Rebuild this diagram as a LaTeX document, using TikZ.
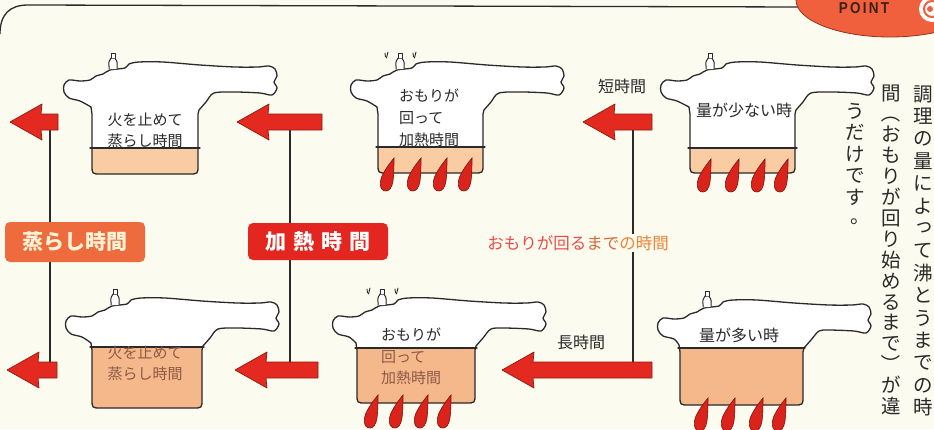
\documentclass[tikz,border=0pt]{standalone}
\usepackage{fontspec}
\setmainfont{Noto Sans CJK JP}
\newfontfamily\jpv{Noto Sans CJK JP}
\newfontfamily\latinb{Liberation Sans}

\definecolor{bg}{HTML}{FCFBEF}
\definecolor{ink}{HTML}{2A2A2A}
\definecolor{fillA}{HTML}{F9CCA4}
\definecolor{fillB}{HTML}{F5B88B}
\definecolor{arrowred}{HTML}{E42A20}
\definecolor{arrowedge}{HTML}{8E1A14}
\definecolor{flamered}{HTML}{D9231B}
\definecolor{flameedge}{HTML}{7E130E}
\definecolor{steamorange}{HTML}{EE6B3D}
\definecolor{heatred}{HTML}{E3261F}
\definecolor{cream}{HTML}{FFF3D6}
\definecolor{brownink}{HTML}{8E5A47}
\definecolor{pinkred}{HTML}{EE4B46}
\definecolor{brownorange}{HTML}{D8683A}
\definecolor{amber}{HTML}{EE8434}
\definecolor{pointred}{HTML}{F0603C}
\definecolor{pointedge}{HTML}{9A3220}
\definecolor{pointtext}{HTML}{3E2018}

\tikzset{
  potline/.style={draw=ink, line width=1.3pt, line join=round, line cap=round},
  bigarrow/.style={fill=arrowred, draw=arrowedge, line width=0.7pt, line join=round},
  flamestyle/.style={fill=flamered, draw=flameedge, line width=0.6pt},
  conn/.style={draw=ink, line width=1.1pt},
  pottext/.style={font=\fontsize{15}{18}\selectfont, text=ink, inner sep=0pt},
  labelbox/.style={rounded corners=5pt, minimum width=140, inner sep=0pt,
    font=\bfseries\fontsize{21}{24}\selectfont},
  vchar/.style={font=\jpv\fontsize{19.5}{20}\selectfont, text=ink, inner sep=0pt,
    text height=0.8em, text depth=0.2em},
}

% outline of a pressure cooker in local coordinates (lid tab at x=0, lid top at y=0)
\newcommand\potoutline[4]{%
  \path[#1] (#2,#4-9) -- (#2,52) -- plot[smooth,tension=0.5] coordinates {(#2-1,45) (17,39) (6,36) (1,30) (1,23) (6,18) (17,19) (27,18) (33,14) (40,12) (47,8) (62,6) (66,2) (76,0) (100,0) (137,3) (172,5) (195,5) (206,4) (212,7) (214,14) (211,20) (214,26) (209,33) (197,31) (172,30) ({#3+16},31) ({#3+8},40) ({#3+1},48)} -- (#3,52) -- (#3,#4-9) .. controls (#3,#4) .. (#3-9,#4) -- (#2+9,#4) .. controls (#2,#4) .. (#2,#4-9) -- cycle;}

% #1,#2 origin; #3 body left; #4 body right; #5 bottom; #6 level of contents; #7 colour; #8 steam marks
\newcommand\cooker[8]{%
  \begin{scope}[shift={(#1,#2)}]
    \potoutline{fill=white}{#3}{#4}{#5}
    \fill[#7] (#3,#6) -- (#3,#5-9) .. controls (#3,#5) .. (#3+9,#5) -- (#4-9,#5) .. controls (#4,#5) .. (#4,#5-9) -- (#4,#6) -- cycle;
    \draw[potline] (#3-2,#6) -- (#4+2,#6);
    \potoutline{potline}{#3}{#4}{#5}
    % pressure weight
    \draw[potline, line width=1pt, fill=white] (46,7) -- (46,4) .. controls (45,0) and (47,-2) .. (48,-4) -- (52,-4) .. controls (53,-2) and (55,0) .. (54,4) -- (54,7);
    \draw[potline, line width=1pt, fill=white] (48,-4) -- (48,-9) -- (52,-9) -- (52,-4);
    \ifnum#8=1
      \draw[ink, line width=0.9pt, line cap=round] (35,-9) -- (35.5,-5) (38,-10) .. controls (38,-7) .. (36.5,-4)
        (63,-9) -- (63.5,-5) (66,-10) .. controls (66,-7) .. (64.5,-4);
    \fi
  \end{scope}}

% flame: bottom point at (#1,#2)
\newcommand\flame[2]{%
  \path[flamestyle] (#1,#2) .. controls (#1-7,#2) and (#1-7,#2-10) .. (#1-3,#2-17) .. controls (#1,#2-23) and (#1+4,#2-28) .. (#1+8,#2-33) .. controls (#1+8,#2-26) and (#1+8,#2-18) .. (#1+7,#2-10) .. controls (#1+6,#2-3) and (#1+3,#2) .. (#1,#2) -- cycle;}

% block arrow pointing left: #1 name, #2 tip x, #3 y, #4 tail x
\newcommand\leftblock[4]{%
  \path[bigarrow] (#2,#3) -- (#2+32,#3-18) -- (#2+31,#3-8) -- (#4,#3-8) -- (#4,#3+8) -- (#2+31,#3+8) -- (#2+32,#3+18) -- cycle;
  \coordinate (#1) at (#2,#3);}

% brackets turned for vertical setting
\newcommand\vopen{\rotatebox[origin=c]{-90}{（}}
\newcommand\vclose{\rotatebox[origin=c]{-90}{）}}

\begin{document}
\begin{tikzpicture}[x=1pt,y=-1pt]
\useasboundingbox (0,0) rectangle (934,429);
\clip (0,0) rectangle (934,429);
\fill[bg] (0,0) rectangle (934,429);

% frame and badge
\draw[ink, line width=1.3pt] (0,34) .. controls (0,14) and (10,5) .. (28,5) -- (805,7);
\draw[fill=pointred, draw=pointedge, line width=0.8pt] (890,0) ellipse [x radius=94pt, y radius=37pt];
\node[font=\latinb\bfseries\fontsize{15}{15}\selectfont, text=pointtext, inner sep=0pt] (point) at (864,8) {\scalebox{0.9}[1.05]{P\,O\,I\,N\,T}};
\fill[white] (932,9) circle (13pt);
\draw[pointred, line width=2pt] (932,9) circle (8pt);
\fill[pointred] (930,9) circle (3pt);

% connectors between arrows
\coordinate (l1a) at (50,130);  \coordinate (l1b) at (50,362);
\coordinate (l2a) at (290,130); \coordinate (l2b) at (290,362);
\coordinate (l3a) at (633,130); \coordinate (l3b) at (633,362);
\draw[conn] (l1a) -- (l1b);
\draw[conn] (l2a) -- (l2b);
\draw[conn] (l3a) -- (l3b);

% arrows
\leftblock{a1}{10}{122}{58}
\leftblock{a2}{237}{122}{322}
\leftblock{a3}{583}{122}{652}
\leftblock{a4}{7}{370}{57}
\leftblock{a5}{235}{370}{318}
\leftblock{a6}{502}{370}{652}

% cookers, top row
\cooker{63}{62}{29}{135}{112}{86}{fillA}{0}
\cooker{350}{62}{28}{133}{111}{85}{fillA}{1}
\cooker{660}{62}{30}{135}{111}{86}{fillA}{0}
% cookers, bottom row
\cooker{65}{298}{27}{137}{110}{49}{fillB}{0}
\cooker{332}{298}{25}{143}{105}{50}{fillB}{1}
\cooker{657}{300}{23}{146}{105}{48}{fillB}{0}

% flames
\flame{386}{191} \flame{413}{191} \flame{439}{191} \flame{464}{191}
\flame{703}{192} \flame{731}{192} \flame{757}{192} \flame{780}{192}
\flame{370}{428} \flame{395}{428} \flame{420}{428} \flame{443}{428}
\flame{700}{431} \flame{727}{431} \flame{755}{431} \flame{778}{431}

% texts in the cookers
\node[pottext] (t1a) at (145,120) {火を止めて};
\node[pottext] (t1b) at (145,141) {蒸らし時間};
\node[pottext, anchor=west] (t2a) at (399,96) {おもりが};
\node[pottext, anchor=west] (t2b) at (399,118) {回って};
\node[pottext, anchor=west] (t2c) at (399,140) {加熱時間};
\node[pottext, font=\fontsize{16}{18}\selectfont] (t3) at (744,110) {量が少ない時};
\node[pottext, text=brownink] (t4a) at (145,353) {火を止めて};
\node[pottext, text=brownink] (t4b) at (145,374) {蒸らし時間};
\node[pottext, anchor=west] (t5a) at (381,335) {おもりが};
\node[pottext, anchor=west, text=brownink] (t5b) at (381,357) {回って};
\node[pottext, anchor=west, text=brownink] (t5c) at (381,378) {加熱時間};
\node[pottext, font=\fontsize{16}{18}\selectfont] (t6) at (739,335) {量が多い時};

% labels on the arrows
\node[pottext, font=\fontsize{16}{18}\selectfont] (short) at (622,86) {短時間};
\node[pottext, font=\fontsize{16}{18}\selectfont] (long) at (581,342) {長時間};
\node[font=\fontsize{16.5}{20}\selectfont, fill=bg, inner sep=1.5pt] (wait) at (578,243)
  {\textcolor{pinkred}{おもりが回る}\textcolor{brownorange}{まで}\textcolor{amber}{の時間}};
\node[labelbox, fill=steamorange, text=cream, minimum height=40] (steam) at (75,242) {蒸らし時間};
\node[labelbox, fill=heatred, text=white, minimum height=37] (heat) at (318,241.5) {加\hspace{7pt}熱\hspace{7pt}時\hspace{7pt}間};

% vertical note, set one character at a time
\foreach \ch [count=\i from 0] in {調,理,の,量,に,よ,{\raisebox{3pt}{\hspace{3pt}っ}},て,沸,と,う,ま,で,の,時}
  \node[vchar] (va\i) at (923,{98+22.4*\i}) {\ch};
\foreach \ch [count=\i from 0] in {間,\vopen,お,も,り,が,回,り,始,め,る,ま,で,\vclose,が,違}
  \node[vchar] (vb\i) at (891,{97+20.9*\i}) {\ch};
\foreach \ch [count=\i from 0] in {う,だ,け,で,す}
  \node[vchar] (vc\i) at (855,{115+21.6*\i}) {\ch};
\node[vchar] (vc5) at (860,220) {。};
\end{tikzpicture}
\end{document}
